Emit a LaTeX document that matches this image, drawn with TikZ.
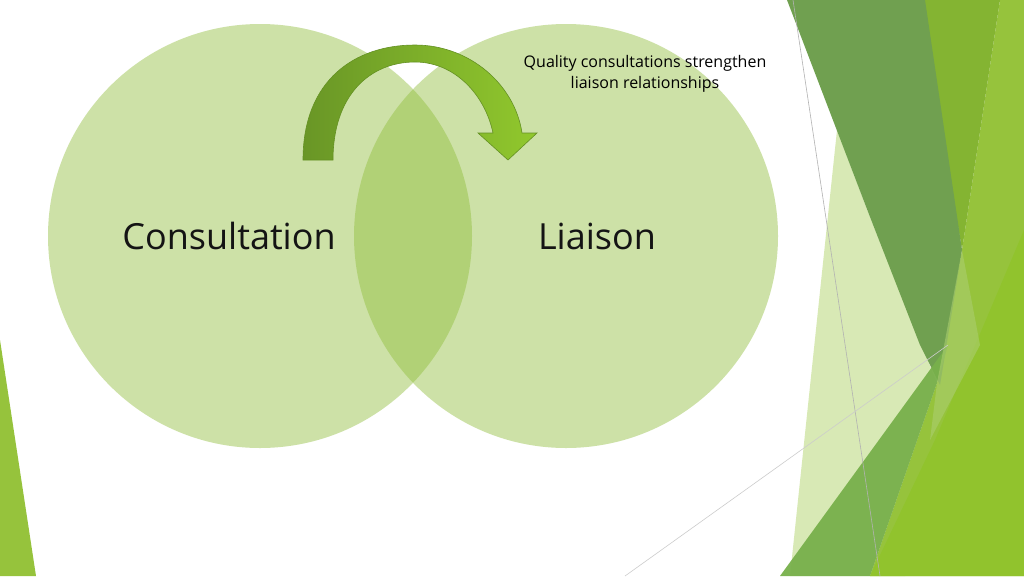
\documentclass[tikz,border=0pt]{standalone}
\usepackage{fontspec}
\setmainfont{Open Sans}
\definecolor{cLime}{RGB}{150,195,60}
\definecolor{cLime2}{RGB}{145,195,45}
\definecolor{cOlive}{RGB}{132,180,50}
\definecolor{cDark}{RGB}{112,160,80}
\definecolor{cPale}{RGB}{200,225,150}
\definecolor{cMed}{RGB}{120,176,75}
\definecolor{cSoft}{RGB}{170,205,110}
\definecolor{cCirc}{RGB}{145,190,60}
\definecolor{cTxt}{RGB}{20,20,20}
\definecolor{aL}{RGB}{105,150,38}
\definecolor{aR}{RGB}{145,200,45}
\definecolor{aD}{RGB}{100,145,35}
\begin{document}
\begin{tikzpicture}[x=1pt,y=-1pt,
  circ/.style={fill=cCirc,fill opacity=0.45},
  lbl/.style={font=\fontsize{36}{40}\selectfont,text=cTxt}]
\useasboundingbox (0,0) rectangle (1024,576);
\fill[white] (0,0) rectangle (1024,576);
% decorations
\fill[cLime] (0,340) -- (36,576) -- (0,576) -- cycle;
\fill[cPale,opacity=0.7] (837,130) -- (870,217) -- (937,383) -- (905,576) -- (790,576) -- cycle;
\fill[cLime] (1000,0) -- (1024,0) -- (1024,576) -- (870,576) -- (937,383) -- (962,250) -- cycle;
\fill[cOlive] (920,0) -- (1000,0) -- (962,250) -- cycle;
\fill[cDark] (787,0) -- (925,0) -- (962,250) -- (940,385) -- (920,345) -- (870,217) -- cycle;
\fill[cMed,opacity=0.95] (780,576) -- (948,345) -- (937,383) -- (870,576) -- cycle;
\fill[cLime2] (1024,230) -- (1024,576) -- (870,576) -- (935,440) -- cycle;
\fill[cSoft,opacity=0.6] (962,250) -- (980,345) -- (930,440) -- (937,383) -- cycle;
\draw[gray!60,line width=0.6] (793,0) -- (880,576);
\draw[gray!40,line width=0.6] (625,576) -- (948,345);
% circles
\fill[circ] (260,236) circle (212);
\fill[circ] (566,236) circle (212);
\node[lbl] (c) at (229,236) {Consultation};
\node[lbl] (l) at (597,236) {Liaison};
\node[align=center,font=\fontsize{16}{21}\selectfont] (q) at (645,74) {Quality consultations strengthen\\liaison relationships};
% arrow
\path[left color=aL,right color=aR,draw=aD,line width=0.6]
  (303,160) .. controls (303,80) and (355,45) .. (415,45)
  .. controls (470,45) and (515,85) .. (522,133)
  -- (537,133) -- (508,160) -- (478,133) -- (493,133)
  .. controls (485,95) and (455,62) .. (415,62)
  .. controls (370,62) and (333,95) .. (333,160) -- cycle;
\end{tikzpicture}
\end{document}
